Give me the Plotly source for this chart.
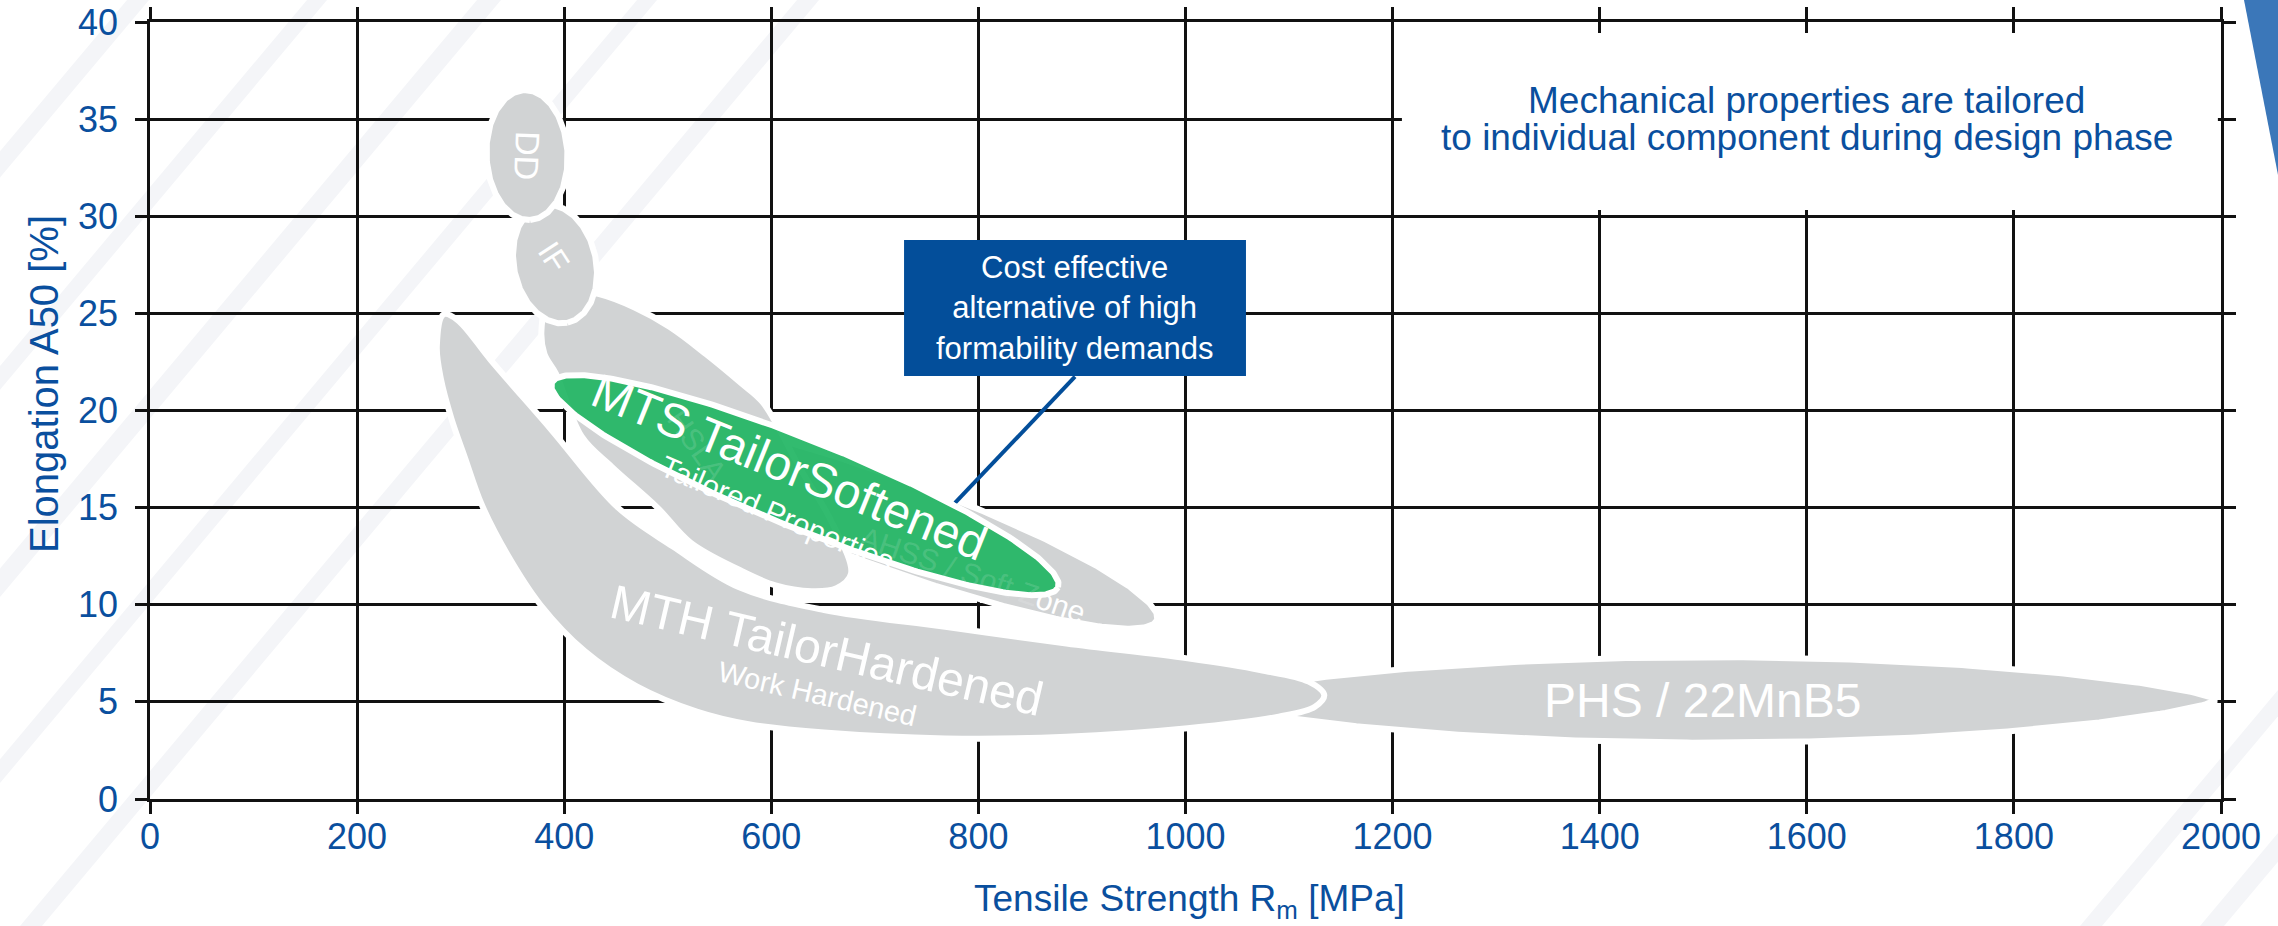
import numpy as np
import plotly.graph_objects as go

# ---- canvas and plot-area geometry ----------------------------------------
W, H = 2278, 926
ML, MR, MT, MB = 150, 57, 22, 127
RM_MAX, A50_MAX = 2000, 40
PX_X = (W - ML - MR) / RM_MAX      # pixels per MPa
PX_Y = (H - MT - MB) / A50_MAX     # pixels per % elongation

# ---- axes -------------------------------------------------------------------
rm_ticks = [0, 200, 400, 600, 800, 1000, 1200, 1400, 1600, 1800, 2000]
a50_ticks = [0, 5, 10, 15, 20, 25, 30, 35, 40]

# ---- elliptical grade windows ---------------------------------------------
ellipse_grade = ["DD", "IF", "AHSS / Soft Zone", "MTS TailorSoftened"]
ellipse_rm = [364.1, 391.1, 709.3, 632.5]
ellipse_a50 = [33.15, 27.54, 14.32, 16.16]
ellipse_semi_major = [65, 60, 290, 273]     # px
ellipse_semi_minor = [40.5, 41, 45, 44]     # px
ellipse_tilt = [87.4, 78, 20, 22]           # deg, clockwise on screen

# ---- free-form grade windows (outline in Rm / A50) --------------------------
mth_rm = [283.5, 277, 281, 291, 304, 320, 345, 377, 420, 470, 528, 578,
          650.9, 768, 885, 1002, 1090, 1125, 1134, 1119, 1072, 1002, 885, 768,
          651, 569, 505, 452, 387.7, 329, 297, 283.5]
mth_a50 = [24.95, 23.3, 21.6, 19.6, 17.6, 15.2, 12.6, 10.0, 7.6, 5.8, 4.5, 3.85,
           3.42, 3.12, 3.2, 3.64, 4.24, 4.75, 5.35, 6.04, 6.64, 7.24, 8.0, 8.87,
           9.73, 10.9, 13.0, 15.0, 19.0, 22.6, 24.66, 24.95]

hsla_rm = [433, 468, 502, 537, 571, 592, 628, 657, 677, 663, 639, 604, 569,
           522, 490, 446, 417, 392, 381, 378, 385, 406, 433]
hsla_a50 = [26.0, 25.3, 24.3, 22.9, 21.4, 20.4, 17.0, 14.4, 11.6, 10.85, 10.7,
            11.0, 11.8, 13.2, 15.0, 17.1, 18.65, 21.9, 22.9, 24.1, 25.7, 26.2, 26.0]

# press-hardening steel window: lens centre, half length (MPa), half height (%)
phs_rm, phs_a50 = 1506.5, 5.1
phs_half_rm, phs_half_a50, phs_power = 489, 2.2, 0.72

# ---- window labels ----------------------------------------------------------
label_text = ["DD", "IF", "MTS TailorSoftened", "Tailored Properties",
              "MTH TailorHardened", "Work Hardened", "PHS / 22MnB5"]
label_rm = [364.1, 389.6, 618, 605.5, 653.8, 645, 1498.8]
label_a50 = [33.15, 27.88, 17.05, 14.68, 7.67, 5.4, 5.07]
label_angle = [92, 57, 22, 23, 13, 13, 0]
label_size = [34, 32, 48, 30, 48, 29, 48]

GRAY = "#d1d3d4"
GREEN = "rgba(33,181,99,0.92)"
BLUE = "#0a4f9e"
BOX_BLUE = "#034e9a"
FONT = "Liberation Sans, Arial, sans-serif"


def ellipse_outline(cx, cy, a_px, b_px, tilt_deg, n=361):
    t = np.linspace(0, 2 * np.pi, n)
    th = np.radians(tilt_deg)
    u, v = a_px * np.cos(t), b_px * np.sin(t)
    dx = u * np.cos(th) - v * np.sin(th)
    dy = u * np.sin(th) + v * np.cos(th)
    return cx + dx / PX_X, cy - dy / PX_Y


def lens_outline(cx, cy, half_x, half_y, power, n=200):
    s = np.linspace(-1, 1, n)
    prof = half_y * (1 - s ** 2) ** power
    xs = np.concatenate([cx + s * half_x, cx + s[::-1] * half_x])
    ys = np.concatenate([cy + prof, cy - prof[::-1]])
    return xs, ys


def to_paper(px, py):
    return (px - ML) / (W - ML - MR), (H - MB - py) / (H - MT - MB)


def region(xs, ys, fill, spline=False):
    return go.Scatter(x=list(xs), y=list(ys), mode="lines", fill="toself",
                      fillcolor=fill,
                      line=dict(color="white", width=6,
                                shape="spline" if spline else "linear",
                                smoothing=1.0),
                      hoverinfo="skip", showlegend=False)


def note(text, x, y, size, color, angle=0, xref="x", yref="y", xshift=0, yshift=0):
    return dict(text=text, x=x, y=y, xref=xref, yref=yref, showarrow=False,
                textangle=angle, xanchor="center", yanchor="middle",
                xshift=xshift, yshift=yshift,
                font=dict(family=FONT, size=size, color=color))


fig = go.Figure()

ell = {g: ellipse_outline(ellipse_rm[i], ellipse_a50[i], ellipse_semi_major[i],
                          ellipse_semi_minor[i], ellipse_tilt[i])
       for i, g in enumerate(ellipse_grade)}

fig.add_trace(region(*lens_outline(phs_rm, phs_a50, phs_half_rm, phs_half_a50, phs_power), GRAY))
fig.add_trace(region(mth_rm, mth_a50, GRAY, spline=True))
fig.add_trace(region(*ell["AHSS / Soft Zone"], GRAY))
fig.add_trace(region(hsla_rm, hsla_a50, GRAY, spline=True))
fig.add_trace(region(*ell["IF"], GRAY))
fig.add_trace(region(*ell["DD"], GRAY))

# callout leader towards the TailorSoftened window
fig.add_trace(go.Scatter(x=[893.3, 777.4], y=[21.74, 15.24], mode="lines",
                         line=dict(color=BOX_BLUE, width=4),
                         hoverinfo="skip", showlegend=False))
fig.add_trace(region(*ell["MTS TailorSoftened"], GREEN))

annotations = []
for txt, x, y, ang, sz in zip(label_text, label_rm, label_a50, label_angle, label_size):
    annotations.append(note(txt, x, y, sz, "white", ang))

# labels lying underneath the translucent green window
ghost = "rgba(255,255,255,0.14)"
annotations.append(note("HSLA", 528.5, 18.2, 30, ghost, 55))
ahss_rm, ahss_a50, ahss_ang, ahss_sz = 795, 11.55, 19, 30
for part, off_em, col in [("AHSS / Soft Z", -0.834, ghost), ("one", 3.111, "white")]:
    off = off_em * ahss_sz
    annotations.append(note(part, ahss_rm, ahss_a50, ahss_sz, col, ahss_ang,
                            xshift=off * np.cos(np.radians(ahss_ang)),
                            yshift=-off * np.sin(np.radians(ahss_ang))))

# callout text
annotations.append(note("Cost effective<br>alternative of high<br>formability demands",
                        893, 25.28, 31, "white"))

# note in the upper right
annotations.append(note("Mechanical properties are tailored", 1600, 35.96, 37, BLUE))
annotations.append(note("to individual component during design phase", 1600, 34.03, 37, BLUE))

# axis titles
yt = to_paper(44, 384)
annotations.append(note("Elongation A50 [%]", yt[0], yt[1], 40, BLUE, -90,
                        xref="paper", yref="paper"))
xt = to_paper(1189, 901)
annotations.append(note("Tensile Strength R<sub>m</sub> [MPa]", xt[0], xt[1], 37, BLUE,
                        xref="paper", yref="paper"))

shapes = []
# faint diagonal background bands
k = 1 / np.tan(np.radians(50))
for x0, w in [(-650, 22), (-470, 20), (-300, 24), (-140, 20), (20, 22),
              (2080, 22), (2200, 24)]:
    pts = [(x0, H), (x0 + w, H), (x0 + w + H * k, 0), (x0 + H * k, 0)]
    pp = [to_paper(*p) for p in pts]
    path = "M " + " L ".join(f"{a:.5f},{b:.5f}" for a, b in pp) + " Z"
    shapes.append(dict(type="path", path=path, xref="paper", yref="paper",
                       fillcolor="#f4f5f8", line=dict(width=0), layer="below"))

# blue corner accent
tri = [to_paper(2244, 0), to_paper(W, 0), to_paper(W, 175)]
shapes.append(dict(type="path", xref="paper", yref="paper",
                   path="M " + " L ".join(f"{a:.5f},{b:.5f}" for a, b in tri) + " Z",
                   fillcolor="#3b77b9", line=dict(width=0), layer="above"))

# white panel behind the note
shapes.append(dict(type="rect", xref="x", yref="y", x0=1209, x1=1997, y0=30.32, y1=39.43,
                   fillcolor="white", line=dict(width=0), layer="between"))
# callout box
shapes.append(dict(type="rect", xref="x", yref="y", x0=728.2, x1=1058.4, y0=21.78, y1=28.78,
                   fillcolor=BOX_BLUE, line=dict(width=0), layer="above"))

axis_common = dict(showgrid=True, gridcolor="#111111", gridwidth=2.5,
                   showline=True, linecolor="#111111", linewidth=2.5,
                   mirror="ticks", ticks="outside", ticklen=12, tickwidth=2.5,
                   tickcolor="#111111", zeroline=False, automargin=False,
                   tickfont=dict(family=FONT, size=36, color=BLUE))

fig.update_layout(
    width=W, height=H,
    margin=dict(l=ML, r=MR, t=MT, b=MB, pad=0),
    paper_bgcolor="white", plot_bgcolor="rgba(0,0,0,0)",
    xaxis=dict(range=[0, RM_MAX], tickvals=rm_ticks, ticklabelstandoff=-8, **axis_common),
    yaxis=dict(range=[0, A50_MAX], tickvals=a50_ticks, ticklabelstandoff=10, **axis_common),
    annotations=annotations, shapes=shapes, showlegend=False,
    font=dict(family=FONT),
)

fig.write_html("out.html")
